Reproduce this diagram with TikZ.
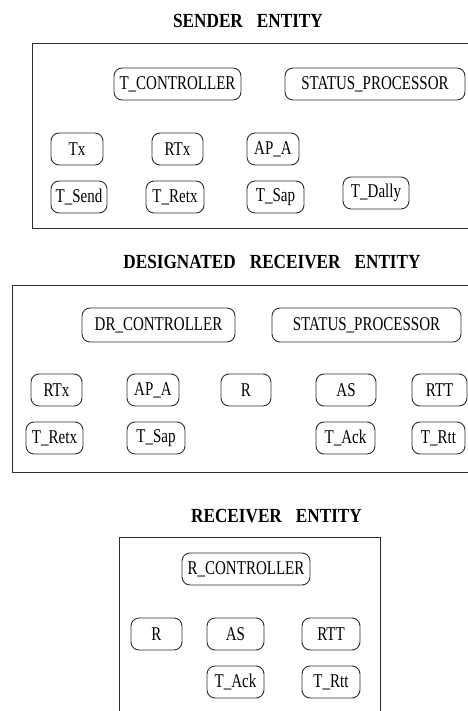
\documentclass[tikz,border=0pt]{standalone}
\usepackage{fontspec}
\setmainfont{Liberation Serif}[FakeStretch=0.77]
\newfontfamily\titlefont{Liberation Serif}[FakeStretch=0.86]
\usepackage{tikz}
\usetikzlibrary{calc}
\usepackage{xcolor}
\definecolor{scanline}{RGB}{45,45,45}

\tikzset{
  procbox/.style={draw=scanline, line width=0.9pt, rounded corners=8pt, minimum height=32pt,
    inner sep=0pt, font=\fontsize{19.5}{22}\selectfont},
  entitytitle/.style={font=\titlefont\bfseries\fontsize{20}{24}\selectfont},
  entitybox/.style={draw=scanline, line width=0.8pt}
}

\begin{document}
\begin{tikzpicture}[x=1pt, y=-1pt]
    \useasboundingbox (0,0) rectangle (467,711);
    % sender
    \node[entitytitle] (sendtitle) at (248,21) {SENDER\hspace{14pt}ENTITY};
    \draw[entitybox] (32,43) rectangle (475,228);
    \node[procbox, minimum width=127pt] (tctrl) at (177.5,84) {T\_CONTROLLER};
    \node[procbox, minimum width=180pt] (sproc1) at (375,84) {STATUS\_PROCESSOR};
    \node[procbox, minimum width=52pt] (tx1) at (77,149) {Tx};
    \node[procbox, minimum width=51pt] (rtx1) at (177.5,149) {RTx};
    \node[procbox, minimum width=52pt] (apa1) at (273,149) {AP\_A};
    \node[procbox, minimum width=56pt] (tsend1) at (79,197) {T\_Send};
    \node[procbox, minimum width=58pt] (tretx1) at (175,197) {T\_Retx};
    \node[procbox, minimum width=57pt] (tsap1) at (275.5,197) {T\_Sap};
    \node[procbox, minimum width=66pt] (tdally1) at (376,193) {T\_Dally};

    % designated receiver
    \node[entitytitle] (drtitle) at (272,262) {DESIGNATED\hspace{14pt}RECEIVER\hspace{14pt}ENTITY};
    \draw[entitybox] (12,285) rectangle (475,472);
    \node[procbox, minimum width=153pt, minimum height=34pt] (drctrl) at (158.5,325) {DR\_CONTROLLER};
    \node[procbox, minimum width=189pt, minimum height=34pt] (sproc2) at (366.5,325) {STATUS\_PROCESSOR};
    \node[procbox, minimum width=51pt] (rtx2) at (56.5,390) {RTx};
    \node[procbox, minimum width=52pt] (apa2) at (153,390) {AP\_A};
    \node[procbox, minimum width=50pt] (r2) at (246,390) {R};
    \node[procbox, minimum width=60pt] (as2) at (346,390) {AS};
    \node[procbox, minimum width=55pt] (rtt2) at (439.5,390) {RTT};
    \node[procbox, minimum width=57pt] (tretx2) at (54.5,438) {T\_Retx};
    \node[procbox, minimum width=58pt] (tsap2) at (156,438) {T\_Sap};
    \node[procbox, minimum width=59pt] (tack2) at (345.5,438) {T\_Ack};
    \node[procbox, minimum width=53pt] (trtt2) at (438.5,438) {T\_Rtt};

    % receiver
    \node[entitytitle] (rectitle) at (276.5,516) {RECEIVER\hspace{14pt}ENTITY};
    \draw[entitybox] (119,537) rectangle (380,718);
    \node[procbox, minimum width=128pt] (rctrl) at (246,569) {R\_CONTROLLER};
    \node[procbox, minimum width=51pt] (r3) at (156.5,634) {R};
    \node[procbox, minimum width=57pt] (as3) at (235.5,634) {AS};
    \node[procbox, minimum width=58pt] (rtt3) at (331,634) {RTT};
    \node[procbox, minimum width=57pt] (tack3) at (235.5,682) {T\_Ack};
    \node[procbox, minimum width=58pt] (trtt3) at (331,682) {T\_Rtt};
\end{tikzpicture}
\end{document}
